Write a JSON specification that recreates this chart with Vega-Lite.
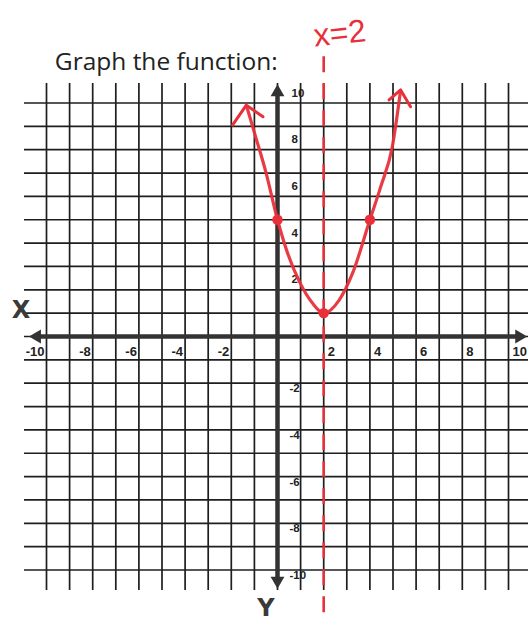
{
  "$schema": "https://vega.github.io/schema/vega-lite/v6.json",
  "width": 504,
  "height": 507,
  "autosize": {"type": "none"},
  "padding": {"left": 24, "top": 83, "right": 4, "bottom": 33},
  "background": "#ffffff",
  "config": {
    "view": {"stroke": null},
    "axis": {"grid": false, "labels": false, "ticks": false, "domain": false}
  },
  "datasets": {
    "grid": [{"v": -10}, {"v": -9}, {"v": -8}, {"v": -7}, {"v": -6}, {"v": -5}, {"v": -4}, {"v": -3}, {"v": -2}, {"v": -1}, {"v": 0}, {"v": 1}, {"v": 2}, {"v": 3}, {"v": 4}, {"v": 5}, {"v": 6}, {"v": 7}, {"v": 8}, {"v": 9}, {"v": 10}],
    "axes": [
      {"axis": "x", "x1": -10.55, "x2": 10.6, "y1": 0, "y2": 0},
      {"axis": "y", "x1": 0, "x2": 0, "y1": 10.5, "y2": -10.5}
    ],
    "arrows": [
      {"x": -10.5, "y": 0, "shape": "triangle-left"},
      {"x": 10.55, "y": 0, "shape": "triangle-right"},
      {"x": 0, "y": 10.55, "shape": "triangle-up"},
      {"x": 0, "y": -10.55, "shape": "triangle-down"}
    ],
    "ticks": [
      {"v": -10, "label": "-10"}, {"v": -8, "label": "-8"}, {"v": -6, "label": "-6"}, {"v": -4, "label": "-4"}, {"v": -2, "label": "-2"},
      {"v": 2, "label": "2"}, {"v": 4, "label": "4"}, {"v": 6, "label": "6"}, {"v": 8, "label": "8"}, {"v": 10, "label": "10"}
    ],
    "curve": [
      {"x": -1.35, "y": 9.91}, {"x": -0.99, "y": 8.7}, {"x": -0.49, "y": 6.99}, {"x": 0, "y": 5},
      {"x": 0.44, "y": 3.56}, {"x": 0.95, "y": 2.35}, {"x": 1.52, "y": 1.42}, {"x": 2, "y": 1},
      {"x": 2.67, "y": 1.56}, {"x": 3.25, "y": 2.71}, {"x": 4, "y": 5}, {"x": 4.47, "y": 6.42},
      {"x": 4.97, "y": 8.13}, {"x": 5.33, "y": 10.56}
    ],
    "heads": [
      {"part": "L", "o": 1, "x": -1.94, "y": 9.06}, {"part": "L", "o": 2, "x": -1.35, "y": 9.91}, {"part": "L", "o": 3, "x": -0.63, "y": 9.41},
      {"part": "R", "o": 1, "x": 4.83, "y": 10.13}, {"part": "R", "o": 2, "x": 5.33, "y": 10.56}, {"part": "R", "o": 3, "x": 5.76, "y": 9.84}
    ],
    "points": [{"x": 0, "y": 5}, {"x": 2, "y": 1}, {"x": 4, "y": 5}]
  },
  "layer": [
    {
      "data": {"name": "grid"},
      "mark": {"type": "rule", "color": "#1e1e1e", "strokeWidth": 1.7},
      "encoding": {
        "x": {"field": "v", "type": "quantitative", "title": null, "scale": {"domain": [-10.974, 10.844], "nice": false, "zero": false}},
        "y": {"datum": -10.857, "scale": {"domain": [-10.857, 10.857], "nice": false, "zero": false}},
        "y2": {"datum": 10.857}
      }
    },
    {
      "data": {"name": "grid"},
      "mark": {"type": "rule", "color": "#1e1e1e", "strokeWidth": 1.7},
      "encoding": {
        "y": {"field": "v", "type": "quantitative", "title": null},
        "x": {"datum": -10.974},
        "x2": {"datum": 10.844}
      }
    },
    {
      "data": {"name": "axes"},
      "mark": {"type": "rule", "color": "#333333", "strokeWidth": 4.5},
      "encoding": {
        "x": {"field": "x1", "type": "quantitative", "title": null},
        "x2": {"field": "x2"},
        "y": {"field": "y1", "type": "quantitative", "title": null},
        "y2": {"field": "y2"}
      }
    },
    {
      "data": {"name": "arrows"},
      "mark": {"type": "point", "filled": true, "color": "#333333", "opacity": 1, "size": 190},
      "encoding": {
        "x": {"field": "x", "type": "quantitative", "title": null},
        "y": {"field": "y", "type": "quantitative", "title": null},
        "shape": {"field": "shape", "type": "nominal", "scale": null, "legend": null}
      }
    },
    {
      "data": {"values": [{"x": 2, "top": 12.0, "bottom": -12.5}]},
      "mark": {"type": "rule", "color": "#e8303a", "strokeWidth": 2.6, "strokeDash": [16, 11]},
      "encoding": {
        "x": {"field": "x", "type": "quantitative", "title": null},
        "y": {"field": "top", "type": "quantitative", "title": null},
        "y2": {"field": "bottom"}
      }
    },
    {
      "data": {"name": "ticks"},
      "transform": [{"filter": "datum.v < 0"}],
      "mark": {"type": "text", "align": "right", "baseline": "middle", "dx": -2, "dy": 15.5, "font": "Liberation Sans", "fontWeight": "bold", "fontSize": 13, "color": "#222222"},
      "encoding": {
        "x": {"field": "v", "type": "quantitative", "title": null},
        "y": {"datum": 0},
        "text": {"field": "label"}
      }
    },
    {
      "data": {"name": "ticks"},
      "transform": [{"filter": "datum.v > 0"}],
      "mark": {"type": "text", "align": "left", "baseline": "middle", "dx": 4, "dy": 15.5, "font": "Liberation Sans", "fontWeight": "bold", "fontSize": 13, "color": "#222222"},
      "encoding": {
        "x": {"field": "v", "type": "quantitative", "title": null},
        "y": {"datum": 0},
        "text": {"field": "label"}
      }
    },
    {
      "data": {"name": "ticks"},
      "transform": [{"filter": "datum.v > 0"}],
      "mark": {"type": "text", "align": "left", "baseline": "middle", "dx": 14, "dy": -9.5, "font": "Liberation Sans", "fontWeight": "bold", "fontSize": 11.5, "color": "#222222"},
      "encoding": {
        "x": {"datum": 0},
        "y": {"field": "v", "type": "quantitative", "title": null},
        "text": {"field": "label"}
      }
    },
    {
      "data": {"name": "ticks"},
      "transform": [{"filter": "datum.v < 0"}],
      "mark": {"type": "text", "align": "left", "baseline": "middle", "dx": 12, "dy": 6, "font": "Liberation Sans", "fontWeight": "bold", "fontSize": 11.5, "color": "#222222"},
      "encoding": {
        "x": {"datum": 0},
        "y": {"field": "v", "type": "quantitative", "title": null},
        "text": {"field": "label"}
      }
    },
    {
      "data": {"name": "curve"},
      "mark": {"type": "line", "color": "#e8303a", "strokeWidth": 3.2, "interpolate": "monotone", "opacity": 0.95},
      "encoding": {
        "x": {"field": "x", "type": "quantitative", "title": null},
        "y": {"field": "y", "type": "quantitative", "title": null}
      }
    },
    {
      "data": {"name": "heads"},
      "mark": {"type": "line", "color": "#e8303a", "strokeWidth": 3, "strokeCap": "round", "strokeJoin": "round"},
      "encoding": {
        "x": {"field": "x", "type": "quantitative", "title": null},
        "y": {"field": "y", "type": "quantitative", "title": null},
        "detail": {"field": "part"},
        "order": {"field": "o"}
      }
    },
    {
      "data": {"name": "points"},
      "mark": {"type": "point", "filled": true, "color": "#e8303a", "opacity": 1, "size": 110},
      "encoding": {
        "x": {"field": "x", "type": "quantitative", "title": null},
        "y": {"field": "y", "type": "quantitative", "title": null}
      }
    },
    {
      "data": {"values": [{"t": "Graph the function:", "x": -9.64, "y": 11.41}]},
      "mark": {"type": "text", "align": "left", "baseline": "alphabetic", "font": "Open Sans", "fontSize": 24.5, "color": "#222222"},
      "encoding": {
        "x": {"field": "x", "type": "quantitative", "title": null},
        "y": {"field": "y", "type": "quantitative", "title": null},
        "text": {"field": "t"}
      }
    },
    {
      "data": {"values": [{"t": "x=2", "x": 2.7, "y": 12.96}]},
      "mark": {"type": "text", "align": "center", "baseline": "middle", "font": "Liberation Sans", "fontSize": 32, "angle": -6, "color": "#e8303a"},
      "encoding": {
        "x": {"field": "x", "type": "quantitative", "title": null},
        "y": {"field": "y", "type": "quantitative", "title": null},
        "text": {"field": "t"}
      }
    },
    {
      "data": {"values": [{"t": "X", "x": -11.1, "y": 1.09}, {"t": "Y", "x": -0.5, "y": -11.68}]},
      "mark": {"type": "text", "align": "center", "baseline": "middle", "font": "DejaVu Sans", "fontWeight": "bold", "fontSize": 24, "color": "#3a3a3a"},
      "encoding": {
        "x": {"field": "x", "type": "quantitative", "title": null},
        "y": {"field": "y", "type": "quantitative", "title": null},
        "text": {"field": "t"}
      }
    }
  ]
}
